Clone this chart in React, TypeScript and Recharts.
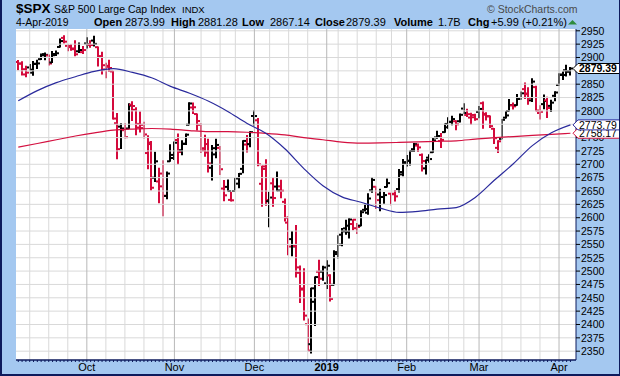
import React from "react"
import { ComposedChart, Bar, Line, XAxis, YAxis, CartesianGrid, ReferenceLine, ReferenceArea } from "recharts"

// trading days shown on the chart
const dates = [
  "2018-09-05", "2018-09-06", "2018-09-07", "2018-09-10", "2018-09-11", "2018-09-12", "2018-09-13", "2018-09-14",
  "2018-09-17", "2018-09-18", "2018-09-19", "2018-09-20", "2018-09-21", "2018-09-24", "2018-09-25", "2018-09-26",
  "2018-09-27", "2018-09-28",
  "2018-10-01", "2018-10-02", "2018-10-03", "2018-10-04", "2018-10-05", "2018-10-08", "2018-10-09", "2018-10-10",
  "2018-10-11", "2018-10-12", "2018-10-15", "2018-10-16", "2018-10-17", "2018-10-18", "2018-10-19", "2018-10-22",
  "2018-10-23", "2018-10-24", "2018-10-25", "2018-10-26", "2018-10-29", "2018-10-30", "2018-10-31",
  "2018-11-01", "2018-11-02", "2018-11-05", "2018-11-06", "2018-11-07", "2018-11-08", "2018-11-09", "2018-11-12",
  "2018-11-13", "2018-11-14", "2018-11-15", "2018-11-16", "2018-11-19", "2018-11-20", "2018-11-21", "2018-11-23",
  "2018-11-26", "2018-11-27", "2018-11-28", "2018-11-29", "2018-11-30",
  "2018-12-03", "2018-12-04", "2018-12-06", "2018-12-07", "2018-12-10", "2018-12-11", "2018-12-12", "2018-12-13",
  "2018-12-14", "2018-12-17", "2018-12-18", "2018-12-19", "2018-12-20", "2018-12-21", "2018-12-24", "2018-12-26",
  "2018-12-27", "2018-12-28", "2018-12-31",
  "2019-01-02", "2019-01-03", "2019-01-04", "2019-01-07", "2019-01-08", "2019-01-09", "2019-01-10", "2019-01-11",
  "2019-01-14", "2019-01-15", "2019-01-16", "2019-01-17", "2019-01-18", "2019-01-22", "2019-01-23", "2019-01-24",
  "2019-01-25", "2019-01-28", "2019-01-29", "2019-01-30", "2019-01-31",
  "2019-02-01", "2019-02-04", "2019-02-05", "2019-02-06", "2019-02-07", "2019-02-08", "2019-02-11", "2019-02-12",
  "2019-02-13", "2019-02-14", "2019-02-15", "2019-02-19", "2019-02-20", "2019-02-21", "2019-02-22", "2019-02-25",
  "2019-02-26", "2019-02-27", "2019-02-28",
  "2019-03-01", "2019-03-04", "2019-03-05", "2019-03-06", "2019-03-07", "2019-03-08", "2019-03-11", "2019-03-12",
  "2019-03-13", "2019-03-14", "2019-03-15", "2019-03-18", "2019-03-19", "2019-03-20", "2019-03-21", "2019-03-22",
  "2019-03-25", "2019-03-26", "2019-03-27", "2019-03-28", "2019-03-29",
  "2019-04-01", "2019-04-02", "2019-04-03", "2019-04-04",
]

const opens = [
  2891.59, 2888.64, 2868.26, 2881.39, 2871.57, 2888.29, 2896.85, 2906.38, 2903.83, 2890.74, 2906.6, 2919.73, 2936.76,
  2921.83, 2921.75, 2916.98, 2911.65, 2910.03,
  2926.29, 2923.8, 2931.69, 2919.35, 2902.54, 2877.53, 2882.51, 2873.9, 2776.87, 2770.54, 2763.83, 2767.05, 2811.67,
  2802.0, 2775.66, 2773.94, 2721.03, 2737.87, 2674.88, 2667.86, 2682.65, 2640.68, 2705.6,
  2717.58, 2745.45, 2726.37, 2738.4, 2774.13, 2806.38, 2794.1, 2773.93, 2730.05, 2737.9, 2693.52, 2718.54, 2730.74,
  2654.6, 2657.74, 2633.36, 2649.97, 2663.75, 2691.45, 2736.97, 2737.76,
  2790.5, 2782.43, 2663.51, 2691.26, 2630.86, 2664.44, 2658.23, 2658.7, 2629.68, 2590.75, 2559.9, 2547.05, 2496.77,
  2465.38, 2400.56, 2363.12, 2442.5, 2498.77, 2498.94,
  2476.96, 2491.92, 2474.33, 2535.61, 2568.11, 2580.0, 2573.51, 2588.11, 2580.31, 2585.1, 2614.75, 2609.28, 2651.27,
  2657.88, 2643.48, 2638.84, 2657.44, 2644.97, 2644.89, 2653.62, 2685.49,
  2702.32, 2706.49, 2728.34, 2735.05, 2717.53, 2692.36, 2712.4, 2722.61, 2750.3, 2743.5, 2760.24, 2769.28, 2779.05,
  2780.67, 2780.67, 2804.35, 2792.36, 2787.5, 2788.11,
  2798.22, 2814.37, 2794.41, 2790.27, 2766.53, 2730.79, 2747.61, 2787.34, 2799.78, 2810.38, 2810.79, 2822.61, 2840.76,
  2831.34, 2819.72, 2844.52, 2796.01, 2812.66, 2819.72, 2809.4, 2828.27,
  2848.63, 2868.24, 2876.09, 2873.99,
]

const highs = [
  2894.21, 2892.05, 2883.81, 2886.93, 2892.52, 2894.65, 2906.76, 2908.3, 2904.65, 2911.17, 2912.36, 2934.8, 2940.91,
  2923.79, 2923.95, 2931.15, 2927.22, 2920.53,
  2937.06, 2931.42, 2939.86, 2919.78, 2909.64, 2889.45, 2894.83, 2874.02, 2795.14, 2775.77, 2775.99, 2813.46, 2816.94,
  2806.04, 2797.77, 2778.94, 2753.59, 2742.59, 2722.7, 2692.38, 2706.85, 2685.43, 2736.69,
  2741.67, 2756.55, 2744.27, 2756.82, 2815.15, 2814.75, 2794.1, 2775.99, 2754.6, 2746.8, 2735.38, 2746.75, 2733.16,
  2669.44, 2670.73, 2647.55, 2674.35, 2682.53, 2744.0, 2753.75, 2760.88,
  2800.18, 2785.93, 2696.15, 2708.54, 2647.51, 2674.35, 2685.44, 2670.19, 2635.07, 2601.13, 2573.99, 2585.29, 2509.63,
  2504.41, 2410.34, 2467.76, 2489.1, 2520.27, 2509.24,
  2519.49, 2493.14, 2538.07, 2566.16, 2579.82, 2595.32, 2597.82, 2596.27, 2589.32, 2613.08, 2625.76, 2645.06, 2675.47,
  2657.88, 2653.19, 2647.2, 2672.38, 2644.97, 2650.93, 2690.44, 2708.95,
  2716.66, 2724.99, 2738.98, 2738.08, 2719.32, 2708.07, 2718.05, 2748.19, 2761.85, 2757.9, 2775.66, 2787.33, 2789.88,
  2781.58, 2794.2, 2813.49, 2803.12, 2795.76, 2793.73,
  2808.02, 2816.88, 2796.44, 2790.27, 2767.25, 2744.13, 2784.0, 2798.32, 2821.24, 2815.0, 2830.73, 2835.41, 2852.42,
  2843.54, 2860.31, 2846.16, 2809.79, 2829.87, 2825.56, 2819.71, 2836.03,
  2869.4, 2872.9, 2885.25, 2881.28,
]

const lows = [
  2876.92, 2867.29, 2864.12, 2875.94, 2866.78, 2879.2, 2896.39, 2895.77, 2886.16, 2890.43, 2903.82, 2919.73, 2927.11,
  2912.63, 2913.7, 2903.28, 2909.27, 2907.5,
  2917.91, 2919.37, 2921.36, 2883.92, 2869.29, 2862.08, 2874.27, 2784.86, 2710.51, 2729.44, 2749.03, 2766.91, 2781.81,
  2755.18, 2760.27, 2749.22, 2691.43, 2651.89, 2667.84, 2628.16, 2603.54, 2635.34, 2705.6,
  2708.85, 2700.44, 2717.94, 2737.08, 2774.13, 2794.99, 2764.24, 2722.0, 2714.98, 2685.75, 2670.75, 2712.16, 2681.09,
  2631.52, 2649.82, 2631.09, 2649.97, 2655.89, 2684.38, 2722.94, 2732.76,
  2773.38, 2697.18, 2621.53, 2623.14, 2583.23, 2621.3, 2650.26, 2637.27, 2593.84, 2530.54, 2528.71, 2488.96, 2441.18,
  2408.55, 2351.1, 2346.58, 2397.94, 2472.89, 2482.82,
  2467.47, 2443.96, 2474.33, 2524.56, 2547.56, 2568.89, 2562.02, 2577.4, 2570.41, 2585.1, 2612.68, 2606.36, 2647.58,
  2617.27, 2612.86, 2627.01, 2657.33, 2624.06, 2631.05, 2648.34, 2678.65,
  2696.88, 2698.75, 2724.03, 2724.15, 2687.26, 2681.83, 2703.79, 2722.61, 2748.63, 2731.23, 2760.24, 2767.29, 2774.06,
  2764.55, 2779.11, 2794.99, 2789.47, 2775.13, 2782.51,
  2787.38, 2767.66, 2782.97, 2768.69, 2739.09, 2722.27, 2747.61, 2786.73, 2799.78, 2803.46, 2810.79, 2821.99, 2823.27,
  2812.43, 2817.38, 2800.47, 2785.02, 2803.99, 2787.72, 2798.77, 2819.23,
  2848.63, 2858.75, 2865.17, 2867.14,
]

const closes = [
  2888.6, 2878.05, 2871.68, 2877.13, 2887.89, 2888.92, 2904.18, 2904.98, 2888.8, 2904.31, 2907.95, 2930.75, 2929.67,
  2919.37, 2915.56, 2905.97, 2914.0, 2913.98,
  2924.59, 2923.43, 2925.51, 2901.61, 2885.57, 2884.43, 2880.34, 2785.68, 2728.37, 2767.13, 2750.79, 2809.92, 2809.21,
  2768.78, 2767.78, 2755.88, 2740.69, 2656.1, 2705.57, 2658.69, 2641.25, 2682.63, 2711.74,
  2740.37, 2723.06, 2738.31, 2755.45, 2813.89, 2806.83, 2781.01, 2726.22, 2722.18, 2701.58, 2730.2, 2736.27, 2690.73,
  2641.89, 2649.93, 2632.56, 2673.45, 2682.17, 2743.79, 2737.8, 2760.17,
  2790.37, 2700.06, 2695.95, 2633.08, 2637.72, 2636.78, 2651.07, 2650.54, 2599.95, 2545.94, 2546.16, 2506.96, 2467.42,
  2416.62, 2351.1, 2467.7, 2488.83, 2485.74, 2506.85,
  2510.03, 2447.89, 2531.94, 2549.69, 2574.41, 2584.96, 2596.64, 2596.26, 2582.61, 2610.3, 2616.1, 2635.96, 2670.71,
  2632.9, 2638.7, 2642.33, 2664.76, 2643.85, 2640.0, 2681.05, 2704.1,
  2706.53, 2724.87, 2737.7, 2731.61, 2706.05, 2707.88, 2709.8, 2744.73, 2753.03, 2745.73, 2775.6, 2779.76, 2784.7,
  2774.88, 2792.67, 2796.11, 2793.9, 2792.38, 2784.49,
  2803.69, 2792.81, 2789.65, 2771.45, 2748.93, 2743.07, 2783.3, 2791.52, 2810.92, 2808.48, 2822.48, 2832.94, 2832.57,
  2824.23, 2854.88, 2800.71, 2798.36, 2818.46, 2805.37, 2815.44, 2834.4,
  2867.19, 2867.24, 2873.4, 2879.39,
]

// close of the session before the first bar (decides the first bar's colour)
const closeBeforeStart = 2896.72

// moving averages at a few dates
const ma50Readings: [string, number][] = [
  ["2018-09-05", 2819], ["2018-09-12", 2838], ["2018-09-19", 2853], ["2018-09-26", 2864], ["2018-10-03", 2874],
  ["2018-10-10", 2879], ["2018-10-17", 2872], ["2018-10-24", 2862], ["2018-10-31", 2846], ["2018-11-07", 2833],
  ["2018-11-14", 2818], ["2018-11-21", 2799], ["2018-11-29", 2777], ["2018-12-07", 2758], ["2018-12-14", 2729],
  ["2018-12-21", 2692], ["2018-12-31", 2660], ["2019-01-08", 2639], ["2019-01-15", 2629], ["2019-01-23", 2618],
  ["2019-01-30", 2610], ["2019-02-06", 2612], ["2019-02-13", 2616], ["2019-02-21", 2619], ["2019-02-28", 2638],
  ["2019-03-07", 2670], ["2019-03-14", 2701], ["2019-03-21", 2735], ["2019-03-28", 2759], ["2019-04-04", 2773.79],
]

const ma200Readings: [string, number][] = [
  ["2018-09-05", 2732], ["2018-09-12", 2739], ["2018-09-19", 2746], ["2018-09-26", 2753], ["2018-10-03", 2759],
  ["2018-10-10", 2764], ["2018-10-17", 2766], ["2018-10-24", 2767], ["2018-10-31", 2766], ["2018-11-07", 2763],
  ["2018-11-14", 2761], ["2018-11-21", 2761], ["2018-11-29", 2760], ["2018-12-07", 2758], ["2018-12-14", 2755],
  ["2018-12-21", 2750], ["2018-12-31", 2746], ["2019-01-08", 2741.5], ["2019-01-15", 2739.5], ["2019-01-23", 2740],
  ["2019-01-30", 2741], ["2019-02-06", 2742], ["2019-02-13", 2743], ["2019-02-21", 2744], ["2019-02-28", 2747],
  ["2019-03-07", 2750], ["2019-03-14", 2752], ["2019-03-21", 2754], ["2019-03-28", 2756], ["2019-04-04", 2758.17],
]

const monthStarts = ["2018-10-01", "2018-11-01", "2018-12-03", "2019-01-02", "2019-02-01", "2019-03-01", "2019-04-01"]
const monthLabels = ["Oct", "Nov", "Dec", "2019", "Feb", "Mar", "Apr"]
const weekStarts = [
  "2018-09-10", "2018-09-17", "2018-09-24", "2018-10-08", "2018-10-15", "2018-10-22", "2018-10-29", "2018-11-12",
  "2018-11-19", "2018-11-26", "2018-12-10", "2018-12-17", "2018-12-24", "2019-01-07", "2019-01-14", "2019-01-22",
  "2019-01-28", "2019-02-11", "2019-02-19", "2019-02-25", "2019-03-11", "2019-03-18", "2019-03-25",
]

const priceTicks = [
  2350, 2375, 2400, 2425, 2450, 2475, 2500, 2525, 2550, 2575, 2600, 2625, 2650, 2675, 2700, 2725, 2750, 2775, 2800,
  2825, 2850, 2875, 2900, 2925, 2950,
]
// labels that sit fully under the price tags in the original
const coveredTicks = [2775, 2875]

const BG = "#a4c8f0"
const NAVY = "#0d1a5c"
const RED = "#d40a3c"
const MA50_COLOR = "#2a2a9c"
const MA200_COLOR = "#d41040"
const FONT = "'Liberation Sans', Arial, sans-serif"

const ma50Map = new Map(ma50Readings)
const ma200Map = new Map(ma200Readings)
const indexOf = (d: string) => dates.indexOf(d)

const rows = dates.map((d, i) => ({
  i,
  date: d,
  open: opens[i],
  high: highs[i],
  low: lows[i],
  close: closes[i],
  range: [lows[i], highs[i]],
  up: closes[i] >= (i === 0 ? closeBeforeStart : closes[i - 1]),
  ma50: ma50Map.has(d) ? ma50Map.get(d) : null,
  ma200: ma200Map.has(d) ? ma200Map.get(d) : null,
}))

const monthIdx = monthStarts.map(indexOf)
const weekIdx = weekStarts.map(indexOf)
const allIdx = rows.map((r) => r.i)
const last = rows[rows.length - 1]

// price tags at the right edge, drawn last so they cover the axis labels
const tags = [
  { value: ma200Readings[ma200Readings.length - 1][1], border: MA200_COLOR, bold: false },
  { value: ma50Readings[ma50Readings.length - 1][1], border: MA50_COLOR, bold: false },
  { value: last.close, border: "#000", bold: true },
]
const yTicks = [...priceTicks, ...tags.map((t) => t.value)]

const OhlcBar = (props: any) => {
  const { x, y, width, height, payload } = props
  const top = Math.min(y, y + height)
  const bottom = Math.max(y, y + height)
  const span = payload.high - payload.low
  const toY = (v: number) => (span > 0 ? top + ((payload.high - v) / span) * (bottom - top) : top)
  const cx = Math.round(x + width / 2)
  const color = payload.up ? "#000" : RED
  return (
    <g>
      <line x1={cx} x2={cx} y1={top - 0.5} y2={bottom + 0.5} stroke={color} strokeWidth={2} />
      <line x1={cx - 3} x2={cx} y1={toY(payload.open)} y2={toY(payload.open)} stroke={color} strokeWidth={2} />
      <line x1={cx} x2={cx + 3} y1={toY(payload.close)} y2={toY(payload.close)} stroke={color} strokeWidth={2} />
    </g>
  )
}

const MonthTick = (props: any) => {
  const { x, y, payload } = props
  const k = monthIdx.indexOf(payload.value)
  if (k < 0) return null
  const label = monthLabels[k]
  return (
    <text x={x} y={y} dy="0.62em" textAnchor="middle" fontFamily={FONT} fontSize={11}
      fontWeight={label === "2019" ? 700 : 400} fill="#000">
      {label}
    </text>
  )
}

const PriceTick = (props: any) => {
  const { x, y, payload } = props
  const v = payload.value
  const tag = tags.find((t) => t.value === v)
  if (tag) {
    const h = 10
    const tip = x - 3
    const end = x + 44
    const pts = `${tip},${y} ${tip + 5},${y - h / 2} ${end},${y - h / 2} ${end},${y + h / 2} ${tip + 5},${y + h / 2}`
    return (
      <g>
        <polygon points={pts} fill="#fff" stroke={tag.border} strokeWidth={1} />
        <text x={tip + 6} y={y} dy="0.36em" fontFamily={FONT} fontSize={10.5} fontWeight={tag.bold ? 700 : 400} fill="#000">
          {v.toFixed(2)}
        </text>
      </g>
    )
  }
  return (
    <g>
      <line x1={x} x2={x + 4} y1={y} y2={y} stroke="#000" />
      {coveredTicks.includes(v) ? null : (
        <text x={x + 5} y={y} dy="0.36em" fontFamily={FONT} fontSize={10.5} fill="#000">
          {v}
        </text>
      )}
    </g>
  )
}

function Header() {
  const t = { fontFamily: FONT, fill: "#000" }
  return (
    <svg width={620} height={30} style={{ position: "absolute", left: 0, top: 0 }}>
      <text x={16} y={13} {...t} fontSize={13.5} fontWeight={700}>$SPX</text>
      <text x={54} y={13} {...t} fontSize={10.5}>S&amp;P 500 Large Cap Index</text>
      <text x={182} y={13} {...t} fontSize={9.5}>INDX</text>
      <text x={487} y={13} fontFamily={FONT} fontSize={10.5} fill="#4a4a4a">© StockCharts.com</text>
      <text x={16} y={26} {...t} fontSize={10.5}>4-Apr-2019</text>
      <text x={94} y={26} {...t} fontSize={11} fontWeight={700}>Open</text>
      <text x={125} y={26} {...t} fontSize={11}>2873.99</text>
      <text x={171} y={26} {...t} fontSize={11} fontWeight={700}>High</text>
      <text x={198} y={26} {...t} fontSize={11}>2881.28</text>
      <text x={242} y={26} {...t} fontSize={11} fontWeight={700}>Low</text>
      <text x={270} y={26} {...t} fontSize={11}>2867.14</text>
      <text x={315} y={26} {...t} fontSize={11} fontWeight={700}>Close</text>
      <text x={346} y={26} {...t} fontSize={11}>2879.39</text>
      <text x={394} y={26} {...t} fontSize={11} fontWeight={700}>Volume</text>
      <text x={438} y={26} {...t} fontSize={11}>1.7B</text>
      <text x={468} y={26} {...t} fontSize={11} fontWeight={700}>Chg</text>
      <text x={491} y={26} {...t} fontSize={11}>+5.99 (+0.21%)</text>
      <polygon points="568,24.5 577,24.5 572.5,20" fill="#2e8b3e" />
    </svg>
  )
}

export default function App() {
  return (
    <div style={{ position: "absolute", left: 0, top: 0, width: 620, height: 376, background: BG, overflow: "hidden" }}>
      <ComposedChart width={620} height={376} data={rows} margin={{ top: 29, right: 0, bottom: 0, left: 16 }}>
        <CartesianGrid horizontal={false} vertical={false} fill="#fff" fillOpacity={1} />
        {priceTicks.map((p) => (
          <ReferenceLine key={"h" + p} y={p} stroke="#d9d9d9" strokeWidth={1} />
        ))}
        {weekIdx.map((w) => (
          <ReferenceLine key={"w" + w} x={w} stroke="#d9d9d9" strokeWidth={1} />
        ))}
        {monthIdx.map((m) => (
          <ReferenceLine key={"m" + m} x={m} stroke="#b8b8b8" strokeWidth={1} />
        ))}
        <XAxis
          type="number"
          dataKey="i"
          domain={[-0.6, 146.46]}
          allowDataOverflow
          ticks={allIdx}
          interval={0}
          tick={<MonthTick />}
          tickSize={2}
          tickLine={{ stroke: NAVY, strokeWidth: 1 }}
          axisLine={{ stroke: NAVY, strokeWidth: 1.5 }}
          height={16}
        />
        <YAxis
          orientation="right"
          domain={[2333.5, 2953.37]}
          allowDataOverflow
          ticks={yTicks}
          interval={0}
          width={44}
          tickSize={0}
          tickMargin={0}
          tickLine={false}
          axisLine={{ stroke: NAVY }}
          tick={<PriceTick />}
        />
        <ReferenceArea stroke={NAVY} strokeWidth={1.5} fillOpacity={0} />
        <Line dataKey="ma200" type="monotone" stroke={MA200_COLOR} strokeWidth={1.2} dot={false} connectNulls isAnimationActive={false} />
        <Line dataKey="ma50" type="monotone" stroke={MA50_COLOR} strokeWidth={1.2} dot={false} connectNulls isAnimationActive={false} />
        <Bar dataKey="range" barSize={6} shape={<OhlcBar />} isAnimationActive={false} />
      </ComposedChart>
      <Header />
      <div style={{ position: "absolute", inset: 0, boxSizing: "border-box", borderLeft: `2px solid ${NAVY}`, borderRight: `1px solid ${NAVY}`, borderBottom: `2px solid ${NAVY}`, pointerEvents: "none" }} />
    </div>
  )
}
